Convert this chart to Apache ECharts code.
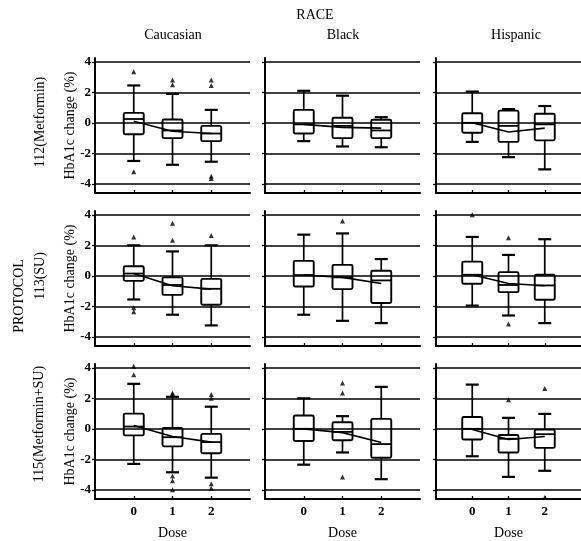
<!DOCTYPE html>
<html><head><meta charset="utf-8">
<script src="https://cdn.jsdelivr.net/npm/echarts@6/dist/echarts.min.js"></script>
<style>html,body{margin:0;padding:0;background:#fff}#c{width:581px;height:541px}</style>
</head><body><div id="c"></div>
<script>
const protocols = ['112(Metformin)', '113(SU)', '115(Metformin+SU)'];
const races = ['Caucasian', 'Black', 'Hispanic'];
const doses = [0, 1, 2];
const yTicks = [-4, -2, 0, 2, 4];

// boxes: [min, Q1, median, Q3, max] for dose 0, 1, 2
const box_112_Caucasian = [[-2.5, -0.75, 0.25, 0.65, 2.45], [-2.75, -1.0, -0.5, 0.22, 1.9], [-2.55, -1.2, -0.7, -0.2, 0.85]];
const box_112_Black     = [[-1.2, -0.7, -0.1, 0.85, 2.1], [-1.55, -1.0, -0.2, 0.33, 1.78], [-1.6, -1.0, -0.5, 0.2, 0.37]];
const box_112_Hispanic  = [[-1.25, -0.65, 0.0, 0.63, 2.05], [-2.25, -1.25, -0.2, 0.8, 0.9], [-3.05, -1.15, -0.1, 0.6, 1.1]];
const box_113_Caucasian = [[-1.55, -0.33, 0.15, 0.63, 2.0], [-2.55, -1.25, -0.6, -0.1, 1.6], [-3.25, -1.9, -0.85, -0.2, 2.0]];
const box_113_Black     = [[-2.55, -0.7, 0.05, 0.98, 2.7], [-2.95, -0.87, -0.1, 0.72, 2.78], [-3.1, -1.78, -0.3, 0.33, 1.1]];
const box_113_Hispanic  = [[-1.95, -0.52, 0.07, 0.93, 2.55], [-2.6, -1.07, -0.6, 0.24, 1.37], [-3.1, -1.57, -0.63, 0.07, 2.4]];
const box_115_Caucasian = [[-2.3, -0.43, 0.15, 1.0, 2.95], [-2.85, -1.15, -0.55, 0.05, 2.1], [-3.2, -1.6, -0.87, -0.33, 1.45]];
const box_115_Black     = [[-2.35, -0.8, 0.0, 0.87, 2.0], [-1.55, -0.75, -0.2, 0.43, 0.83], [-3.3, -1.9, -1.0, 0.65, 2.75]];
const box_115_Hispanic  = [[-1.8, -0.7, 0.0, 0.78, 2.9], [-3.15, -1.55, -0.65, -0.4, 0.72], [-2.75, -1.25, -0.35, -0.05, 0.98]];

// connecting (mean) line values for dose 0, 1, 2
const mean_112_Caucasian = [0.1, -0.55, -0.7];
const mean_112_Black     = [-0.1, -0.3, -0.35];
const mean_112_Hispanic  = [0.0, -0.6, -0.35];
const mean_113_Caucasian = [0.15, -0.65, -0.87];
const mean_113_Black     = [0.05, -0.1, -0.5];
const mean_113_Hispanic  = [0.07, -0.5, -0.65];
const mean_115_Caucasian = [0.22, -0.5, -0.87];
const mean_115_Black     = [0.0, -0.25, -0.9];
const mean_115_Hispanic  = [-0.05, -0.7, -0.5];

// outliers: [dose, value]
const out_112_Caucasian = [[0, 3.35], [0, -3.2], [1, 2.8], [1, 2.5], [2, 2.8], [2, 2.45], [2, -3.5], [2, -3.65]];
const out_112_Black     = [];
const out_112_Hispanic  = [];
const out_113_Caucasian = [[0, 2.55], [0, -2.1], [0, -2.35], [1, 3.45], [1, 2.33], [2, 2.65]];
const out_113_Black     = [[1, 3.6]];
const out_113_Hispanic  = [[0, 4.0], [1, 2.5], [1, -3.15]];
const out_115_Caucasian = [[0, 4.1], [0, 3.55], [1, 2.35], [1, 2.25], [1, -3.1], [1, -3.4], [1, -4.0], [2, 2.25], [2, 2.0], [2, -3.6], [2, -3.9]];
const out_115_Black     = [[1, 3.0], [1, 2.35], [1, -3.15]];
const out_115_Hispanic  = [[1, 1.9], [2, 2.65], [2, -4.5]];

const panels = [
  [box_112_Caucasian, mean_112_Caucasian, out_112_Caucasian],
  [box_112_Black, mean_112_Black, out_112_Black],
  [box_112_Hispanic, mean_112_Hispanic, out_112_Hispanic],
  [box_113_Caucasian, mean_113_Caucasian, out_113_Caucasian],
  [box_113_Black, mean_113_Black, out_113_Black],
  [box_113_Hispanic, mean_113_Hispanic, out_113_Hispanic],
  [box_115_Caucasian, mean_115_Caucasian, out_115_Caucasian],
  [box_115_Black, mean_115_Black, out_115_Black],
  [box_115_Hispanic, mean_115_Hispanic, out_115_Hispanic]
];

const FONT = 'Liberation Serif, Times New Roman, serif';
const colLeft = [95, 265, 436];
const rowTop = [58, 211, 364];
const GW = 155, GH = 135;

const grids = [], xAxes = [], yAxes = [], series = [];

function renderBox(params, api) {
  const x = api.value(0);
  const pMin = api.coord([x, api.value(1)]);
  const pQ1 = api.coord([x, api.value(2)]);
  const pMed = api.coord([x, api.value(3)]);
  const pQ3 = api.coord([x, api.value(4)]);
  const pMax = api.coord([x, api.value(5)]);
  const cx = pMed[0], hw = 10, cw = 6.5;
  const st = {stroke: '#000', lineWidth: 1.9, fill: 'none'};
  const ln = (x1, y1, x2, y2, w) => ({type: 'line', shape: {x1, y1, x2, y2}, style: {stroke: '#000', lineWidth: w || 1.7}});
  return {
    type: 'group',
    children: [
      ln(cx, pMax[1], cx, pQ3[1]),
      ln(cx, pQ1[1], cx, pMin[1]),
      ln(cx - cw, pMax[1], cx + cw, pMax[1], 2.2),
      ln(cx - cw, pMin[1], cx + cw, pMin[1], 2.2),
      {type: 'rect', shape: {x: cx - hw, y: pQ3[1], width: hw * 2, height: pQ1[1] - pQ3[1], r: 1.5}, style: st},
      ln(cx - hw, pMed[1], cx + hw, pMed[1], 1.8)
    ]
  };
}

for (let r = 0; r < 3; r++) {
  for (let c = 0; c < 3; c++) {
    const i = r * 3 + c;
    const [box, mean, out] = panels[i];
    grids.push({left: colLeft[c], top: rowTop[r], width: GW, height: GH});
    xAxes.push({
      gridIndex: i, type: 'value', min: -1, max: 3,
      axisLine: {show: true, onZero: false, lineStyle: {color: '#000', width: 2}},
      axisTick: {show: true, inside: true, customValues: doses, length: 3, lineStyle: {color: '#000', width: 1.3}},
      axisLabel: {show: r === 2, customValues: doses, color: '#000', fontFamily: FONT, fontSize: 13, fontWeight: 'bold', margin: 6},
      splitLine: {show: false},
      name: r === 2 ? 'Dose' : '', nameLocation: 'middle', nameGap: 27,
      nameTextStyle: {color: '#000', fontFamily: FONT, fontSize: 14}
    });
    yAxes.push({
      gridIndex: i, type: 'value', min: -4.6, max: 4.25,
      axisLine: {show: true, onZero: false, lineStyle: {color: '#000', width: 2}},
      axisTick: {show: true, customValues: yTicks, length: 3, lineStyle: {color: '#000', width: 1.3}},
      axisLabel: {show: c === 0, customValues: yTicks, color: '#000', fontFamily: FONT, fontSize: 13, fontWeight: 'bold', margin: 4},
      splitLine: {show: false}
    });
    series.push({
      type: 'line', xAxisIndex: i, yAxisIndex: i, z: 2,
      data: doses.map((d, j) => [d, mean[j]]),
      symbol: 'none', lineStyle: {color: '#000', width: 1.6}, silent: true,
      markLine: {
        silent: true, symbol: ['none', 'none'], label: {show: false},
        lineStyle: {color: '#000', type: 'solid', width: 1.7},
        data: yTicks.map(v => ({yAxis: v}))
      }
    });
    series.push({
      type: 'custom', xAxisIndex: i, yAxisIndex: i, z: 3,
      renderItem: renderBox,
      encode: {x: 0, y: [1, 2, 3, 4, 5]},
      data: doses.map((d, j) => [d].concat(box[j]))
    });
    series.push({
      type: 'scatter', xAxisIndex: i, yAxisIndex: i, z: 4,
      symbol: 'triangle', symbolSize: 5, itemStyle: {color: '#000'},
      data: out
    });
  }
}

const txt = (text, x, y, rot, size) => ({
  type: 'text', x, y, rotation: rot ? Math.PI / 2 : 0,
  style: {text, fill: '#000', font: (size || 14) + 'px ' + FONT, align: 'center', verticalAlign: 'middle'}
});

const graphics = [
  txt('RACE', 315, 15),
  txt(races[0], 173, 35),
  txt(races[1], 343, 35),
  txt(races[2], 516, 35),
  txt(protocols[0], 40, 122, true),
  txt('PROTOCOL', 19, 296, true),
  txt(protocols[1], 40, 276, true),
  txt(protocols[2], 39, 424, true)
];
for (let r = 0; r < 3; r++) graphics.push(txt('HbA1c change (%)', 70, rowTop[r] + GH / 2, true));

const chart = echarts.init(document.getElementById('c'), null, {renderer: 'canvas'});
chart.setOption({
  animation: false,
  backgroundColor: '#fff',
  grid: grids, xAxis: xAxes, yAxis: yAxes, series: series,
  graphic: graphics
});
</script></body></html>
